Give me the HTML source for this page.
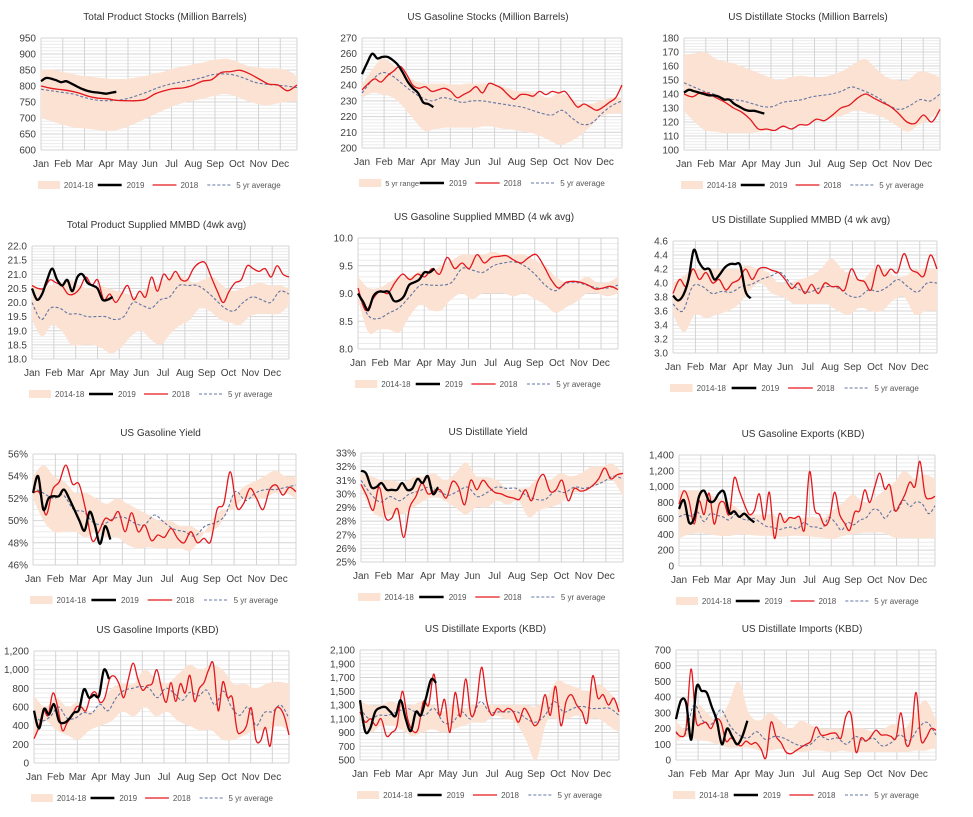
<!DOCTYPE html>
<html><head><meta charset="utf-8">
<style>
html,body{margin:0;padding:0;background:#fff;width:973px;height:817px;overflow:hidden}
svg{display:block}
text{font-family:"Liberation Sans",sans-serif}
</style></head>
<body>
<svg id="root" width="973" height="817" viewBox="0 0 973 817" xmlns="http://www.w3.org/2000/svg"></svg>
<script>
// ---------- DATA ----------
const months = ["Jan","Feb","Mar","Apr","May","Jun","Jul","Aug","Sep","Oct","Nov","Dec"];
const legendLabels = ["2014-18","2019","2018","5 yr average"];
const titles = ["Total Product Stocks (Million Barrels)","US Gasoline Stocks (Million Barrels)","US Distillate Stocks (Million Barrels)","Total Product Supplied MMBD (4wk avg)","US Gasoline Supplied MMBD (4 wk avg)","US Distillate Supplied MMBD (4 wk avg)","US Gasoline Yield","US Distillate Yield","US Gasoline Exports (KBD)","US Gasoline Imports (KBD)","US Distillate Exports (KBD)","US Distillate Imports (KBD)"];

const c1Hi=[850,852,845,838,832,828,825,822,822,825,830,838,845,855,862,868,875,882,885,878,865,858,855,855,850,830];
const c1Lo=[700,690,680,672,668,665,660,660,668,680,695,710,725,738,748,755,762,770,775,768,755,745,740,745,750,752];
const c1Y18=[800,793,789,785,778,768,762,760,755,754,754,758,775,785,792,794,802,815,820,842,845,849,838,822,806,803,785,803];
const c1Avg=[790,785,780,775,765,757,754,755,760,770,782,795,805,812,818,825,835,838,835,825,812,806,803,800,795];
const c1Y19=[815,825,823,818,812,815,808,800,792,786,782,780,778,776,779,782];

const c2Hi=[240,250,257,253,248,243,241,241,241,240,241,241,241,240,238,236,236,234,232,235,232,228,228,230,232,232];
const c2Lo=[232,235,234,232,226,218,211,212,213,213,213,213,214,213,212,211,210,208,205,202,204,208,214,220,222,222];
const c2Y18=[237,241,244,242,246,249,252,247,240,238,239,236,237,238,236,232,234,236,239,235,241,240,238,234,231,234,234,233,236,234,236,235,236,231,226,228,226,224,226,229,232,240];
const c2Avg=[235,243,248,246,241,236,232,230,232,231,229,230,230,229,228,227,226,224,222,221,224,219,215,216,222,227,230];
const c2Y19=[247,254,260,257,258,258,256,253,248,242,238,235,229,228,226];

const c3Hi=[168,169,170,165,163,161,158,155,152,150,152,153,152,152,154,157,162,165,158,152,150,150,156,155,152];
const c3Lo=[128,120,114,113,112,112,112,113,114,116,117,118,120,122,123,125,128,127,125,122,117,113,118,122,128];
const c3Y18=[140,138,141,140,137,134,130,127,122,115,115,114,117,115,118,118,122,121,125,130,132,137,140,137,134,131,126,120,119,125,120,129];
const c3Avg=[148,145,142,140,137,136,135,133,131,131,134,135,136,138,139,140,142,145,143,140,136,131,129,132,136,135,140];
const c3Y19=[141,143,142,141,140,139,139,138,136,136,133,131,129,128,128,127,126];

const c4Hi=[20.6,20.5,20.6,20.7,20.8,20.6,20.5,20.6,20.5,20.4,20.3,20.2,20.5,20.6,20.8,21.0,20.9,20.7,20.8,20.9,20.6,20.4,20.5,20.6,20.7,20.6,20.6,20.5];
const c4Lo=[19.4,18.8,19.2,19.0,18.5,18.5,18.5,18.4,18.2,18.4,18.8,19.0,18.7,18.5,18.9,19.2,19.4,19.8,19.7,19.4,19.3,19.2,19.5,19.6,19.6,19.6,19.9];
const c4Y18=[20.6,20.5,20.5,20.8,20.7,20.6,20.3,20.3,20.5,20.9,20.6,20.8,20.1,20.3,20.0,20.3,20.6,20.1,20.4,20.2,20.9,20.4,21.0,20.8,21.1,20.8,20.8,21.2,21.4,21.4,20.9,20.4,20.0,20.4,20.7,20.8,21.3,21.2,21.1,21.2,20.9,21.3,21.0,20.9];
const c4Avg=[20.0,19.4,19.8,19.8,19.6,19.6,19.5,19.5,19.5,19.4,19.5,20.0,19.9,19.8,20.1,20.2,20.6,20.6,20.6,20.4,20.1,19.8,19.7,20.0,20.2,20.1,20.0,20.4,20.3];
const c4Y19=[20.5,20.1,20.3,20.8,21.2,20.8,20.6,20.8,20.4,20.9,21.0,20.7,20.6,20.5,20.1,20.1,20.2];

const c5Hi=[9.3,9.1,9.1,9.2,9.3,9.3,9.4,9.4,9.5,9.6,9.7,9.7,9.7,9.75,9.7,9.7,9.7,9.6,9.5,9.3,9.2,9.2,9.3,9.2,9.2,9.3];
const c5Lo=[8.9,8.3,8.35,8.35,8.3,8.6,8.8,8.7,8.7,8.9,9.0,8.9,9.0,9.0,9.0,8.95,9.0,8.9,8.8,8.65,8.75,8.85,9.0,9.0,8.95,9.0];
const c5Y18=[9.1,8.7,8.9,9.05,9.0,9.2,9.35,9.25,9.35,9.3,9.45,9.35,9.65,9.45,9.55,9.45,9.7,9.55,9.65,9.67,9.68,9.6,9.55,9.65,9.7,9.5,9.25,9.1,9.2,9.22,9.2,9.15,9.08,9.1,9.13,9.07];
const c5Avg=[9.0,8.6,8.55,8.65,8.75,8.95,9.15,9.15,9.15,9.2,9.45,9.42,9.38,9.5,9.55,9.57,9.5,9.35,9.15,9.05,9.18,9.2,9.15,9.1,9.1,9.15];
const c5Y19=[9.0,8.85,8.7,8.95,9.03,9.03,9.03,8.87,8.87,8.95,9.15,9.2,9.25,9.38,9.38,9.45];

const c6Hi=[4.0,4.1,4.2,4.2,4.2,4.2,4.2,4.25,4.2,4.15,4.0,4.0,4.05,4.1,4.2,4.35,4.2,4.1,4.05,4.2,4.2,4.1,4.1,4.2,4.2,4.2];
const c6Lo=[3.55,3.3,3.55,3.5,3.55,3.6,3.7,3.9,4.0,3.85,3.8,3.7,3.7,3.7,3.7,3.6,3.55,3.65,3.6,3.6,3.75,3.8,3.55,3.6,3.6];
const c6Y18=[3.85,4.05,3.95,4.2,4.05,4.15,4.0,4.05,3.9,4.0,4.05,4.2,4.05,4.2,4.22,4.18,4.15,4.05,3.92,4.0,3.85,3.98,3.85,4.0,3.95,3.95,3.9,4.2,4.05,4.02,3.9,4.25,4.1,4.2,4.15,4.42,4.2,4.15,4.1,4.4,4.2];
const c6Avg=[3.7,3.6,3.95,3.95,3.85,3.88,3.87,3.95,3.98,4.05,4.1,4.15,4.0,3.9,3.87,3.93,3.95,3.92,3.82,3.8,3.9,3.88,3.95,4.05,3.95,3.87,4.0,4.0];
const c6Y19=[3.82,3.75,3.83,4.05,4.47,4.3,4.2,4.2,4.05,4.12,4.22,4.27,4.27,4.25,3.88,3.78];

const c7Hi=[54,55,54,53.5,52.5,52.5,52,51.5,52,51.5,51,50.5,50,50,49.5,49.5,49,49,50,52,53,53.5,54,54.5,54,54];
const c7Lo=[52,50,49,49,49,48.5,49,48.5,48.5,47.8,47.5,47.6,47.5,47.5,47.5,47.3,48.5,50,51,51,52,52,52,52.5,52.5,52];
const c7Y18=[52.5,52.5,50.5,52.8,53.5,55,53.3,53.3,51,48.2,49,50.2,50,50.8,49,50.7,49,49.6,48.2,48.7,48.5,49.3,48.4,48,49,48,48.4,48.1,51,51.5,54.4,51.2,51.5,52.9,52,51,52.8,53.2,52.3,53,52.6];
const c7Avg=[53,52.5,52,52.3,51,50.8,49.8,49.7,50.2,50.3,49.8,49.6,50.5,49.8,49.2,49,48.6,49.5,49.8,50.5,52.6,51.8,52.5,52.8,52.8,53,53.2];
const c7Y19=[52.5,54,51,52,52.2,52.2,52.8,52,51,50,49.1,50.8,49.6,47.9,49.5,48.3];

const c8Hi=[31.5,31.3,31,31,30.8,31.2,31.3,31.5,31,31.5,32.3,31.3,31.2,31,30.3,30.4,30.5,31.2,31,31.5,31.3,31.5,32,32,32.2,31.5];
const c8Lo=[30.5,28.8,28.3,28.5,28.5,29,29.5,29.8,29.5,29,28.5,29,29,29.5,29.2,29.5,28.3,28.8,29,29.3,30,30.2,30.5,30.8,31,29.8];
const c8Y18=[30.7,29.8,28.8,30.5,28.3,28.2,28.9,26.8,29,29.8,30.8,30,30.2,30.3,29.7,30.9,30.5,29.2,31,30.3,31,30.5,30.1,30,29.8,29.7,29.6,30.3,29.5,30.9,31.4,30.2,30.3,31,29.5,30.4,30.2,30.3,30.6,31.1,31.9,31.1,31.4,31.5];
const c8Avg=[31,30,29.4,29.8,29.5,30,30.2,30.5,30.2,29.9,30.2,30.5,29.8,30.1,30.5,30.4,30.4,29.9,29.6,29.6,30.2,30.1,30.5,30.4,30.6,30.9,31.3,31.1];
const c8Y19=[31.7,31.5,30.5,30.5,30.8,30.3,30.3,30.3,30.8,30.3,30.4,31.1,30.8,31.3,30,30.5];

const c9Hi=[950,950,950,900,850,800,700,650,640,650,600,620,600,620,600,700,800,900,800,850,950,1050,1200,1100,1150,1100];
const c9Lo=[350,400,420,400,380,380,400,390,380,380,370,380,380,370,360,340,380,400,420,420,420,360,350,350,350,350];
const c9Y18=[780,950,820,530,820,650,920,530,780,800,650,1110,950,780,650,700,910,580,930,350,660,550,610,600,620,460,1190,720,650,510,600,930,650,540,450,680,700,960,800,1000,1170,970,1020,700,780,900,1060,1000,1320,900,850,880];
const c9Avg=[620,650,630,680,560,660,640,620,580,650,600,580,600,550,500,490,460,480,490,470,550,500,490,480,610,550,450,550,520,580,610,710,700,600,700,710,830,750,810,780,660,760];
const c9Y19=[720,830,550,600,880,950,820,820,920,930,670,690,620,660,600,550];

const c10Hi=[720,600,700,600,650,550,620,800,850,850,1000,900,850,950,1050,1000,1050,1000,850,850,800,850,870,850];
const c10Lo=[250,450,350,300,250,350,400,450,550,500,600,500,550,450,400,350,350,250,250,300,350,350,400,350];
const c10Y18=[260,380,560,510,750,600,350,430,500,600,600,560,720,760,650,700,900,930,850,700,900,1070,900,780,830,850,1000,800,650,860,660,850,750,940,660,800,860,1000,1060,560,870,700,700,350,330,400,590,250,240,380,180,550,590,500,300];
const c10Avg=[500,450,500,600,480,480,540,530,630,560,700,780,800,820,800,700,800,750,670,760,720,780,620,770,600,510,600,400,540,550,620,480];
const c10Y19=[560,370,580,520,630,450,430,470,540,570,790,700,730,720,1000,900];

const c11Hi=[1350,1300,1300,1350,1300,1300,1350,1300,1200,1300,1250,1300,1300,1300,1300,1300,1300,1280,1400,1650,1600,1550,1500,1600,1500,1300];
const c11Lo=[1100,900,1000,1000,950,850,900,950,900,950,1000,1050,1050,1150,1100,1050,800,500,1050,1100,1100,1150,1100,1100,1000,900];
const c11Y18=[1200,1050,1100,1000,1100,850,900,1000,1500,1100,920,950,1350,1300,1750,1150,1380,900,1480,1130,1680,1150,1300,1850,1350,1150,1250,1200,1250,1200,1050,1250,1150,1000,1100,1450,1150,1570,1000,1350,1450,1300,1200,1050,1720,1400,1450,1300,1400,1200];
const c11Avg=[1250,1100,1150,1150,1200,1250,1200,1150,1250,1050,1050,1200,1100,1350,1200,1200,1200,1200,1100,1050,1150,1350,1200,1250,1280,1250,1250,1250,1150];
const c11Y19=[1370,920,960,1200,1260,1270,1200,1140,1370,1100,920,1200,1150,1400,1670,1620];

const c12Hi=[250,200,350,300,250,350,500,300,250,300,250,200,250,220,200,200,200,200,200,180,200,230,200,300,380,250];
const c12Lo=[120,150,130,120,100,80,80,80,60,60,70,60,50,60,60,50,60,50,50,50,50,50,50,60,60,80];
const c12Y18=[180,150,200,580,250,230,240,200,260,240,120,140,110,90,120,100,110,70,15,240,150,110,50,40,60,80,100,120,210,160,160,170,170,140,280,290,50,140,120,150,190,160,160,150,140,300,100,140,430,130,140,200,190];
const c12Avg=[170,160,350,250,230,320,220,160,140,180,130,150,140,110,90,100,150,130,140,100,150,120,140,90,110,160,120,200,240,160];
const c12Y19=[260,380,360,130,460,440,430,340,250,100,200,150,100,150,250];

// ---------- LAYOUT ----------
const fmtComma=v=>v.toLocaleString("en-US");
const charts=[
 {hi:c1Hi,lo:c1Lo,y18:c1Y18,avg:c1Avg,y19:c1Y19,L:41,R:297,T:38,B:150,min:600,max:950,step:50,minor:10,fmt:v=>String(v)},
 {hi:c2Hi,lo:c2Lo,y18:c2Y18,avg:c2Avg,y19:c2Y19,L:362,R:622,T:38,B:148,min:200,max:270,step:10,minor:2,fmt:v=>String(v),band:"5 yr range"},
 {hi:c3Hi,lo:c3Lo,y18:c3Y18,avg:c3Avg,y19:c3Y19,L:684,R:940,T:38,B:150,min:100,max:180,step:10,minor:2,fmt:v=>String(v)},
 {hi:c4Hi,lo:c4Lo,y18:c4Y18,avg:c4Avg,y19:c4Y19,L:32,R:289,T:246,B:359,min:18,max:22,step:0.5,minor:0.1,fmt:v=>v.toFixed(1)},
 {hi:c5Hi,lo:c5Lo,y18:c5Y18,avg:c5Avg,y19:c5Y19,L:358,R:618,T:238,B:349,min:8,max:10,step:0.5,minor:0.1,fmt:v=>v.toFixed(1)},
 {hi:c6Hi,lo:c6Lo,y18:c6Y18,avg:c6Avg,y19:c6Y19,L:673,R:937,T:241,B:353,min:3,max:4.6,step:0.2,minor:0.05,fmt:v=>v.toFixed(1)},
 {hi:c7Hi,lo:c7Lo,y18:c7Y18,avg:c7Avg,y19:c7Y19,L:33,R:296,T:454,B:565,min:46,max:56,step:2,minor:0.5,fmt:v=>v+"%"},
 {hi:c8Hi,lo:c8Lo,y18:c8Y18,avg:c8Avg,y19:c8Y19,L:361,R:623,T:453,B:562,min:25,max:33,step:1,minor:0.25,fmt:v=>v+"%"},
 {hi:c9Hi,lo:c9Lo,y18:c9Y18,avg:c9Avg,y19:c9Y19,L:679,R:935,T:455,B:566,min:0,max:1400,step:200,minor:50,fmt:fmtComma},
 {hi:c10Hi,lo:c10Lo,y18:c10Y18,avg:c10Avg,y19:c10Y19,L:34,R:289,T:651,B:763,min:0,max:1200,step:200,minor:50,fmt:fmtComma},
 {hi:c11Hi,lo:c11Lo,y18:c11Y18,avg:c11Avg,y19:c11Y19,L:360,R:619,T:650,B:760,min:500,max:2100,step:200,minor:50,fmt:fmtComma},
 {hi:c12Hi,lo:c12Lo,y18:c12Y18,avg:c12Avg,y19:c12Y19,L:676,R:936,T:650,B:760,min:0,max:700,step:100,minor:25,fmt:fmtComma}
];
const NS="http://www.w3.org/2000/svg";
const root=document.getElementById("root");
function mk(tag,attrs,parent){const e=document.createElementNS(NS,tag);for(const k in attrs)e.setAttribute(k,attrs[k]);parent.appendChild(e);return e;}
function smooth(pts){
  if(pts.length<2)return "";
  let d="M"+pts[0][0].toFixed(1)+","+pts[0][1].toFixed(1);
  for(let i=0;i<pts.length-1;i++){
    const p0=pts[i-1]||pts[i],p1=pts[i],p2=pts[i+1],p3=pts[i+2]||p2;
    const c1x=p1[0]+(p2[0]-p0[0])/6,c1y=p1[1]+(p2[1]-p0[1])/6;
    const c2x=p2[0]-(p3[0]-p1[0])/6,c2y=p2[1]-(p3[1]-p1[1])/6;
    d+=" C"+c1x.toFixed(1)+","+c1y.toFixed(1)+" "+c2x.toFixed(1)+","+c2y.toFixed(1)+" "+p2[0].toFixed(1)+","+p2[1].toFixed(1);
  }
  return d;
}
charts.forEach((c,ci)=>{
  const g=mk("g",{},root);
  
  
  const pw=(c.R-c.L)/51;
  const xW=w=>c.L+w*pw;
  const yV=v=>c.B-(v-c.min)/(c.max-c.min)*(c.B-c.T);
  const xSpread=(arr,i)=>xW(i*51/(arr.length-1));
  const nMinor=Math.round((c.max-c.min)/c.minor);
  for(let k=0;k<=nMinor;k++){
    const v=c.min+k*c.minor;const y=yV(v);
    const major=Math.abs(((v-c.min)/c.step)-Math.round((v-c.min)/c.step))<1e-6;
    const ln=mk("line",{x1:c.L,x2:c.R,y1:y,y2:y,stroke:major?"#d4d4d4":"#ebebeb","stroke-width":1},g);
    
    
  }
  months.forEach((m,mi)=>{
    const x=xW(mi*52/12);
    const ln=mk("line",{x1:x,x2:x,y1:c.T,y2:c.B,stroke:"#d4d4d4","stroke-width":1},g);
    
    
    const t=mk("text",{x:x,y:c.B+17,"font-size":"10","text-anchor":"middle",fill:"#404040"},g);
    t.textContent=m;
    
    
  });
  const rl=mk("line",{x1:c.R,x2:c.R,y1:c.T,y2:c.B,stroke:"#d4d4d4"},g);
  
  
  const nMajor=Math.round((c.max-c.min)/c.step);
  for(let k=0;k<=nMajor;k++){
    const v=+(c.min+k*c.step).toFixed(4);
    const t=mk("text",{x:c.L-5,y:yV(v)+3.5,"font-size":"10","text-anchor":"end",fill:"#404040"},g);
    t.textContent=c.fmt(v);
    
    
  }
  const top=c.hi.map((v,i)=>[xSpread(c.hi,i),yV(v)]);
  const bot=c.lo.map((v,i)=>[xSpread(c.lo,i),yV(v)]).reverse();
  let bd=smooth(top)+" L"+bot[0][0]+","+bot[0][1]+smooth(bot).replace(/^M[^ C]+/,"")+" Z";
  const band=mk("path",{d:bd,fill:"#fbe2d3",stroke:"none"},g);
  
  
  const av=mk("path",{d:smooth(c.avg.map((v,i)=>[xSpread(c.avg,i),yV(v)])),fill:"none",stroke:"#6275a3","stroke-width":1.1,"stroke-dasharray":"3,2"},g);
  
  
  const r=mk("path",{d:smooth(c.y18.map((v,i)=>[xSpread(c.y18,i),yV(v)])),fill:"none",stroke:"#e3171c","stroke-width":1.3},g);
  
  
  const b=mk("path",{d:smooth(c.y19.map((v,i)=>[xW(i),yV(v)])),fill:"none",stroke:"#000","stroke-width":2.3},g);
  
  
  const tt=mk("text",{x:(c.L+c.R)/2-4,y:c.T-18,"font-size":"10","text-anchor":"middle",fill:"#333"},g);
  tt.textContent=titles[ci];
  
  
  const s=(c.R-c.L)/257, ly=c.B+35, L0=c.L-3;
  const lg=mk("g",{},g);
  
  
  const sw=mk("rect",{x:L0,y:ly-4,width:22*s,height:8,fill:"#fbe2d3"},lg);
  
  
  const lbls=[c.band||legendLabels[0],legendLabels[1],legendLabels[2],legendLabels[3]];
  const offs=[24,87,141,197];
  [[0,0],[60,"#000"],[115,"#e3171c"],[170,"#6275a3"]].forEach((o,k)=>{
    if(k>0){
      const l=mk("line",{x1:L0+o[0]*s,x2:L0+(o[0]+24)*s,y1:ly,y2:ly,stroke:o[1],"stroke-width":k==1?2.5:(k==2?1.3:1),"stroke-dasharray":k==3?"3,2":"none"},lg);
      
      
    }
    const t=mk("text",{x:L0+offs[k]*s+2,y:ly+3,"font-size":(k==0&&c.band)?"7.5":"8",fill:"#555"},lg);
    t.textContent=lbls[k];
    
    
  });
});
</script>
</body></html>
